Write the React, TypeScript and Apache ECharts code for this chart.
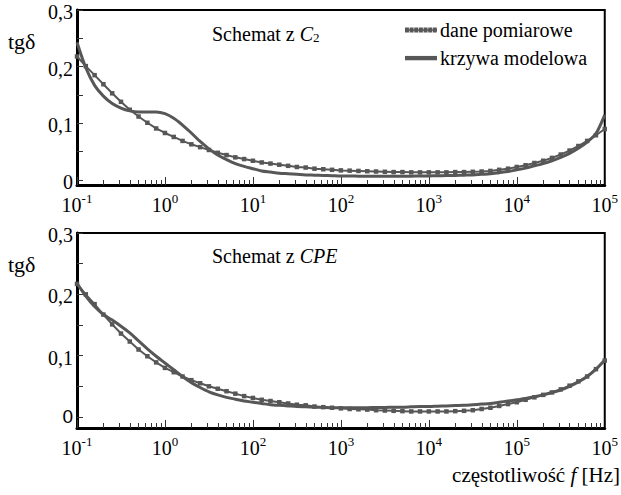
import React, { useEffect, useRef } from 'react';
import * as echarts from 'echarts';

// x positions: log10 of frequency [Hz]
const logF = [
  -1.0, -0.9, -0.8, -0.7, -0.6, -0.5, -0.4, -0.3, -0.2, -0.1,
  0.0, 0.1, 0.2, 0.3, 0.4, 0.5, 0.6, 0.7, 0.8, 0.9,
  1.0, 1.1, 1.2, 1.3, 1.4, 1.5, 1.6, 1.7, 1.8, 1.9,
  2.0, 2.1, 2.2, 2.3, 2.4, 2.5, 2.6, 2.7, 2.8, 2.9,
  3.0, 3.1, 3.2, 3.3, 3.4, 3.5, 3.6, 3.7, 3.8, 3.9,
  4.0, 4.1, 4.2, 4.3, 4.4, 4.5, 4.6, 4.7, 4.8, 4.9,
  5.0,
];

// Top panel: Schemat z C2
const measuredC2 = [
  0.218, 0.201, 0.185, 0.169, 0.153, 0.138, 0.124, 0.112, 0.101, 0.091,
  0.083, 0.076, 0.069, 0.063, 0.058, 0.053, 0.048, 0.044, 0.040, 0.037,
  0.034, 0.031, 0.029, 0.027, 0.025, 0.023, 0.022, 0.020, 0.019, 0.018,
  0.017, 0.0165, 0.016, 0.0155, 0.015, 0.0145, 0.014, 0.014, 0.0135, 0.0135,
  0.0135, 0.0135, 0.0135, 0.014, 0.014, 0.0145, 0.015, 0.016, 0.018, 0.020,
  0.023, 0.026, 0.030, 0.034, 0.039, 0.045, 0.052, 0.060, 0.069, 0.079,
  0.090,
];
const modelC2 = [
  0.243, 0.198, 0.167, 0.148, 0.135, 0.127, 0.122, 0.120, 0.120, 0.120,
  0.117, 0.109, 0.097, 0.083, 0.068, 0.055, 0.044, 0.036, 0.029, 0.024,
  0.020, 0.016, 0.014, 0.012, 0.011, 0.010, 0.009, 0.0085, 0.008, 0.0075,
  0.007, 0.007, 0.0068, 0.0067, 0.0066, 0.0066, 0.0066, 0.0067, 0.0068, 0.007,
  0.0072, 0.0075, 0.0078, 0.008, 0.0085, 0.009, 0.010, 0.011, 0.013, 0.015,
  0.018, 0.021, 0.025, 0.029, 0.034, 0.040, 0.047, 0.056, 0.067, 0.082,
  0.115,
];

// Bottom panel: Schemat z CPE
const measuredCPE = [
  0.217, 0.200, 0.184, 0.167, 0.151, 0.136, 0.123, 0.110, 0.099, 0.089,
  0.080, 0.073, 0.066, 0.060, 0.055, 0.050, 0.046, 0.042, 0.038, 0.034,
  0.031, 0.028, 0.026, 0.024, 0.022, 0.020, 0.019, 0.017, 0.016, 0.015,
  0.014, 0.013, 0.0125, 0.012, 0.011, 0.0105, 0.010, 0.0095, 0.009, 0.009,
  0.009, 0.009, 0.009, 0.0095, 0.010, 0.011, 0.013, 0.015, 0.018, 0.021,
  0.024, 0.028, 0.032, 0.036, 0.040, 0.045, 0.051, 0.058, 0.066, 0.078,
  0.092,
];
const modelCPE = [
  0.218, 0.197, 0.180, 0.167, 0.158, 0.148, 0.137, 0.124, 0.111, 0.099,
  0.088, 0.077, 0.066, 0.056, 0.048, 0.041, 0.036, 0.032, 0.029, 0.026,
  0.024, 0.022, 0.020, 0.019, 0.018, 0.017, 0.0165, 0.016, 0.0155, 0.015,
  0.015, 0.015, 0.015, 0.015, 0.0155, 0.0155, 0.016, 0.016, 0.0165, 0.017,
  0.017, 0.0175, 0.018, 0.0185, 0.019, 0.020, 0.021, 0.022, 0.024, 0.026,
  0.028, 0.030, 0.033, 0.036, 0.040, 0.044, 0.050, 0.057, 0.066, 0.078,
  0.093,
];

// tick label exponents (as printed in the figure)
const topTickExp = ['-1', '0', '1', '2', '3', '4', '5'];
const bottomTickExp = ['-1', '0', '2', '3', '4', '5', '5'];
const yLabelValues = [0, 0.1, 0.2, 0.3];
const yTickValues = [0, 0.05, 0.1, 0.15, 0.2, 0.25, 0.3];
const seriesNames = ['dane pomiarowe', 'krzywa modelowa'];

const SERIF = 'Liberation Serif';
const SANS = 'Liberation Sans';
const INK = '#575757';
const FS = 20;

const majorX = [-1, 0, 1, 2, 3, 4, 5];
const minorX: number[] = [];
for (let d = -1; d < 5; d++) {
  for (let k = 2; k <= 9; k++) minorX.push(d + Math.log10(k));
}

const dottedIcon =
  'path://M0,2h32.4v1.4h-32.4z' +
  [0, 4.7, 9.4, 14.1, 18.8, 23.5, 28.2].map((x) => `M${x},0.2h4v5h-4z`).join('');
const solidIcon = 'path://M0,0L0,0M0,5.4L0,5.4M0,0.6h32.4v4.4h-32.4z';

function pairs(ys: number[]) {
  return logF.map((x, i) => [x, ys[i]]);
}

function xAxisPair(gridIndex: number, exps: string[]) {
  return [
    {
      type: 'value',
      gridIndex,
      position: 'bottom',
      min: -1,
      max: 5,
      interval: 1,
      splitLine: { show: false },
      axisLine: { show: true, onZero: false, lineStyle: { color: '#000', width: 3 } },
      axisTick: {
        show: true,
        inside: true,
        length: 5,
        customValues: minorX,
        lineStyle: { color: '#333', width: 1 },
      },
      axisLabel: {
        show: true,
        margin: 7,
        showMinLabel: true,
        showMaxLabel: true,
        hideOverlap: false,
        fontFamily: SERIF,
        formatter: (_v: number, i: number) => `{b|10}{s|${exps[i]}}`,
        rich: {
          b: { fontFamily: SERIF, fontSize: FS, color: '#000', lineHeight: 23, verticalAlign: 'bottom' },
          s: { fontFamily: SERIF, fontSize: 13, color: '#000', verticalAlign: 'top' },
        },
      },
    },
    {
      type: 'value',
      gridIndex,
      position: 'bottom',
      min: -1,
      max: 5,
      interval: 1,
      splitLine: { show: false },
      axisLine: { show: false, onZero: false },
      axisLabel: { show: false },
      axisTick: {
        show: true,
        inside: true,
        length: 8,
        customValues: majorX,
        lineStyle: { color: '#333', width: 1 },
      },
    },
  ];
}

function yAxisFor(gridIndex: number, min: number, sansZero: boolean) {
  return {
    type: 'value',
    gridIndex,
    min,
    max: 0.3,
    splitLine: { show: false },
    axisLine: { show: true, onZero: false, lineStyle: { color: '#000', width: 3 } },
    axisTick: {
      show: true,
      inside: true,
      length: 6,
      customValues: yTickValues,
      lineStyle: { color: '#333', width: 1 },
    },
    axisLabel: {
      show: true,
      margin: 4,
      fontFamily: SERIF,
      customValues: yLabelValues,
      formatter: (v: number) =>
        v === 0 ? (sansZero ? '{z|0}' : '{n|0}') : `{n|${String(v).replace('.', ',')}}`,
      rich: {
        n: { fontFamily: SERIF, fontSize: FS, color: '#000', padding: [4, 0, 0, 0] },
        z: { fontFamily: SANS, fontSize: 19, color: '#000' },
      },
    },
  };
}

export default function App() {
  const ref = useRef<HTMLDivElement>(null);

  useEffect(() => {
    if (!ref.current) return;
    const chart = echarts.init(ref.current, undefined, { renderer: 'svg' });
    const measuredStyle = {
      symbol: 'rect',
      symbolSize: 4.5,
      showSymbol: true,
      lineStyle: { color: INK, width: 2 },
      itemStyle: { color: INK, borderWidth: 0, opacity: 1 },
    };
    const modelStyle = {
      smooth: 0.3,
      showSymbol: false,
      lineStyle: { color: INK, width: 3 },
      itemStyle: { color: INK },
    };
    chart.setOption({
      animation: false,
      backgroundColor: '#fff',
      textStyle: { fontFamily: SERIF },
      grid: [
        { left: 77, right: 15, top: 10, height: 175, show: true, borderColor: '#000', borderWidth: 2 },
        { left: 77, right: 15, top: 233, height: 195, show: true, borderColor: '#000', borderWidth: 2 },
      ],
      xAxis: [...xAxisPair(0, topTickExp), ...xAxisPair(1, bottomTickExp)],
      yAxis: [yAxisFor(0, -0.0088, false), yAxisFor(1, -0.018, true)],
      legend: {
        show: true,
        orient: 'vertical',
        left: 405,
        top: 20,
        itemWidth: 32,
        itemHeight: 5.4,
        itemGap: 8,
        padding: 0,
        selectedMode: false,
        textStyle: { fontFamily: SERIF, fontSize: FS, color: '#000', padding: [0, 0, 0, -2] },
        data: [
          { name: seriesNames[0], icon: dottedIcon },
          { name: seriesNames[1], icon: solidIcon },
        ],
      },
      series: [
        { type: 'line', name: seriesNames[1], xAxisIndex: 0, yAxisIndex: 0, data: pairs(modelC2), ...modelStyle },
        { type: 'line', name: seriesNames[0], xAxisIndex: 0, yAxisIndex: 0, data: pairs(measuredC2), ...measuredStyle },
        { type: 'line', name: seriesNames[1], xAxisIndex: 2, yAxisIndex: 1, data: pairs(modelCPE), ...modelStyle },
        { type: 'line', name: seriesNames[0], xAxisIndex: 2, yAxisIndex: 1, data: pairs(measuredCPE), ...measuredStyle },
      ],
      graphic: [
        {
          type: 'text',
          x: 8,
          y: 41,
          style: {
            text: '{n|tgδ}',
            verticalAlign: 'middle',
            rich: { n: { fontFamily: SERIF, fontSize: 22, fill: '#000' } },
          },
        },
        {
          type: 'text',
          x: 8,
          y: 264,
          style: {
            text: '{n|tgδ}',
            verticalAlign: 'middle',
            rich: { n: { fontFamily: SERIF, fontSize: 22, fill: '#000' } },
          },
        },
        {
          type: 'text',
          x: 212,
          y: 32,
          style: {
            text: '{n|Schemat z }{i|C}{s|2}',
            verticalAlign: 'middle',
            rich: {
              n: { fontFamily: SERIF, fontSize: FS, fill: '#000', lineHeight: 24, verticalAlign: 'bottom' },
              i: { fontFamily: SERIF, fontSize: FS, fontStyle: 'italic', fill: '#000', lineHeight: 24, verticalAlign: 'bottom' },
              s: { fontFamily: SERIF, fontSize: 13, fill: '#000', verticalAlign: 'bottom' },
            },
          },
        },
        {
          type: 'text',
          x: 212,
          y: 256,
          style: {
            text: '{n|Schemat z }{i|CPE}',
            verticalAlign: 'middle',
            rich: {
              n: { fontFamily: SERIF, fontSize: FS, fill: '#000' },
              i: { fontFamily: SERIF, fontSize: FS, fontStyle: 'italic', fill: '#000' },
            },
          },
        },
        {
          type: 'text',
          x: 620,
          y: 475,
          style: {
            text: '{n|częstotliwość }{i|f}{n| [Hz]}',
            align: 'right',
            verticalAlign: 'middle',
            rich: {
              n: { fontFamily: SERIF, fontSize: 21, fill: '#000' },
              i: { fontFamily: SERIF, fontSize: 21, fontStyle: 'italic', fill: '#000' },
            },
          },
        },
      ],
    });
    return () => chart.dispose();
  }, []);

  return (
    <div
      ref={ref}
      style={{ position: 'absolute', left: 0, top: 0, width: 621, height: 495, background: '#fff' }}
    />
  );
}
